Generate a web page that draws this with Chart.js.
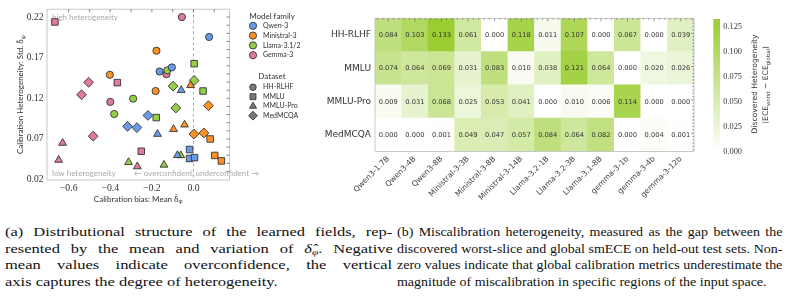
<!DOCTYPE html>
<html><head><meta charset="utf-8">
<script src="https://cdn.jsdelivr.net/npm/chart.js@4"></script>
<style>
html,body{margin:0;padding:0;background:#fff;width:786px;height:296px;overflow:hidden}
body{position:relative}
canvas{position:absolute}
#scatter{left:0;top:0}
#heat{left:300px;top:0}
#cbar{left:700px;top:0}
.cap{position:absolute;font-family:"Liberation Serif","Times New Roman",serif;font-size:13.2px;line-height:16.6px;color:#111;transform-origin:0 0}
.cap div{white-space:nowrap}
.cap sub{font-size:0.7em;line-height:0;vertical-align:-0.25em}
#capA{transform:scaleX(1.25)}
#capB{transform:scaleX(1.06)}
</style></head>
<body>
<canvas id="scatter" width="300" height="210"></canvas>
<canvas id="heat" width="400" height="215"></canvas>
<canvas id="cbar" width="86" height="210"></canvas>
<div class="cap" id="capA" style="left:5px;top:224px;width:310px">
<div class="j"><span>(a) Distributional structure of the learned fields, rep-</span></div>
<div class="j"><span>resented by the mean and variation of <i>δ̂</i><sub><i>φ</i></sub>. Negative</span></div>
<div class="j"><span>mean values indicate overconfidence, the vertical</span></div>
<div><span>axis captures the degree of heterogeneity.</span></div>
</div>
<div class="cap" id="capB" style="left:397px;top:224px;width:364px">
<div class="j"><span>(b) Miscalibration heterogeneity, measured as the gap between the</span></div>
<div class="j"><span>discovered worst-slice and global smECE on held-out test sets. Non-</span></div>
<div class="j"><span>zero values indicate that global calibration metrics underestimate the</span></div>
<div><span>magnitude of miscalibration in specific regions of the input space.</span></div>
</div>
<script>
// ---------------- data: panel (a) ----------------
const families = ['Qwen-3', 'Ministral-3', 'Llama-3.1/2', 'Gemma-3'];
const benchNames = ['HH-RLHF', 'MMLU', 'MMLU-Pro', 'MedMCQA'];
// three model sizes per benchmark, benchmarks in benchNames order
const qwenMean      = [0.075, -0.163, -0.104,  -0.019, -0.019, 0.005,  -0.059, -0.173, -0.077,  -0.219, -0.317, -0.272];
const qwenStd       = [0.1955, 0.153, 0.158,   0.057, 0.046, 0.047,    0.130, 0.076, 0.050,     0.099, 0.0855, 0.084];
const ministralMean = [-0.178, -0.402, -0.182, 0.080, 0.102, 0.134,    -0.014, -0.096, -0.043,  0.002, 0.072, 0.050];
const ministralStd  = [0.1786, 0.149, 0.129,   0.070, 0.0497, 0.043,   0.136, 0.082, 0.0875,    0.076, 0.111, 0.0774];
const llamaMean     = [-0.126, -0.290, -0.381, 0.003, 0.046, -0.179,   -0.312, -0.142, -0.061,  0.003, -0.098, -0.085];
const llamaStd      = [0.1545, 0.1196, 0.1007, 0.1626, 0.129, 0.0963,  0.0413, 0.0381, 0.0497,  0.142, 0.135, 0.108];
const gemmaMean     = [-0.056, -0.130, -0.400, -0.666, -0.366, -0.251, -0.629, -0.648, -0.270,  -0.504, -0.538, -0.482];
const gemmaStd      = [0.220, 0.1497, 0.1156,  0.214, 0.1393, 0.0549,  0.065, 0.0441, 0.0361,   0.1397, 0.1244, 0.0734];
const scatterXTicks = [-0.6, -0.4, -0.2, 0.0];
const scatterYTicks = [0.02, 0.07, 0.12, 0.17, 0.22];

// ---------------- data: panel (b) ----------------
const heatModels = ['Qwen3-1.7B','Qwen3-4B','Qwen3-8B','Ministral-3-3B','Ministral-3-8B','Ministral-3-14B',
                    'Llama-3.2-1B','Llama-3.2-3B','Llama-3.1-8B','gemma-3-1b','gemma-3-4b','gemma-3-12b'];
const heatRows = ['HH-RLHF', 'MMLU', 'MMLU-Pro', 'MedMCQA'];
const hhRlhfGap  = [0.084, 0.103, 0.133, 0.061, 0.000, 0.118, 0.011, 0.107, 0.000, 0.067, 0.000, 0.039];
const mmluGap    = [0.074, 0.064, 0.069, 0.031, 0.083, 0.010, 0.038, 0.121, 0.064, 0.000, 0.020, 0.026];
const mmluProGap = [0.009, 0.031, 0.068, 0.025, 0.053, 0.041, 0.000, 0.010, 0.006, 0.114, 0.000, 0.000];
const medMcqaGap = [0.000, 0.000, 0.001, 0.049, 0.047, 0.057, 0.084, 0.064, 0.082, 0.000, 0.004, 0.001];
const cbTicks = [0, 0.025, 0.05, 0.075, 0.1, 0.125];

// ---------------- styles ----------------
const familyColors = ['#6a9be8', '#ff9124', '#94cf48', '#de7b9e'];
const benchShapes = ['circle', 'rect', 'triangle', 'rectRot'];
const shapeRadius = {circle: 3.6, rect: 4.6, triangle: 4.5, rectRot: 4.9};
const SANS = 'Lato, "DejaVu Sans", sans-serif';
const SERIF = '"Liberation Serif", "DejaVu Serif", serif';

function drawRich(ctx, parts, x, y, align, size, family, color) {
  ctx.save();
  ctx.fillStyle = color; ctx.textBaseline = 'middle';
  let total = 0;
  parts.forEach(p => { ctx.font = (p.sub ? size * 0.7 : size) + 'px ' + family; p.w = ctx.measureText(p.t).width; total += p.w; });
  let cx = align === 'center' ? x - total / 2 : (align === 'right' ? x - total : x);
  ctx.textAlign = 'left';
  parts.forEach(p => {
    ctx.font = (p.sub ? size * 0.7 : size) + 'px ' + family;
    ctx.fillText(p.t, cx, p.sub ? y + size * 0.3 : y);
    cx += p.w;
  });
  ctx.restore();
}
function fmt1(v) { return (v < 0 ? '\u2212' : '') + Math.abs(v).toFixed(1); }

// ---------------- scatter ----------------
const famMeans = [qwenMean, ministralMean, llamaMean, gemmaMean];
const famStds = [qwenStd, ministralStd, llamaStd, gemmaStd];
const scatterSets = [];
families.forEach((f, fi) => {
  benchNames.forEach((b, bi) => {
    const pts = [];
    for (let k = 0; k < 3; k++) pts.push({x: famMeans[fi][bi * 3 + k], y: famStds[fi][bi * 3 + k]});
    scatterSets.push({
      label: f + ' ' + b, data: pts, pointStyle: benchShapes[bi], pointRadius: shapeRadius[benchShapes[bi]],
      backgroundColor: familyColors[fi], borderColor: '#333', borderWidth: 0.9
    });
  });
});

const scatterDecor = {
  id: 'scatterDecor',
  beforeDatasetsDraw(chart) {
    const {ctx, chartArea: a, scales: {x}} = chart;
    const x0 = x.getPixelForValue(0);
    ctx.save();
    ctx.strokeStyle = '#999'; ctx.lineWidth = 0.8; ctx.setLineDash([3, 2.5]);
    ctx.beginPath(); ctx.moveTo(x0, a.top); ctx.lineTo(x0, a.bottom); ctx.stroke();
    ctx.setLineDash([]);
    ctx.fillStyle = '#aaa'; ctx.font = '8px ' + SANS; ctx.textBaseline = 'middle';
    ctx.textAlign = 'left';
    ctx.fillText('high heterogeneity', a.left + 5, a.top + 8);
    ctx.fillText('low heterogeneity', a.left + 5, a.bottom - 6.5);
    ctx.textAlign = 'right'; ctx.fillText('\u2190 overconfident', x0 - 1, a.bottom - 6.5);
    ctx.textAlign = 'left'; ctx.fillText('underconfident \u2192', x0 + 2, a.bottom - 6.5);
    ctx.restore();
  },
  afterDraw(chart) {
    const {ctx, chartArea: a, scales: {x, y}} = chart;
    ctx.save();
    ctx.strokeStyle = '#c8c8c8'; ctx.lineWidth = 1;
    ctx.strokeRect(a.left, a.top, a.right - a.left, a.bottom - a.top);
    ctx.strokeStyle = '#555'; ctx.lineWidth = 0.7;
    ctx.beginPath();
    for (let v = -0.6; v <= 0.15; v += 0.1) { const px = x.getPixelForValue(v); ctx.moveTo(px, a.top); ctx.lineTo(px, a.top + 3); }
    for (let k = 3; k <= 22; k++) { const py = y.getPixelForValue(k / 100); ctx.moveTo(a.right, py); ctx.lineTo(a.right - 3, py); }
    ctx.stroke();
    // axis titles
    drawRich(ctx, [{t: 'Calibration bias: Mean '}, {t: 'δ̄'}, {t: 'φ', sub: true}], (a.left + a.right) / 2, 199, 'center', 8, SANS, '#333');
    ctx.save();
    ctx.translate(20.5, (a.top + a.bottom) / 2); ctx.rotate(-Math.PI / 2);
    drawRich(ctx, [{t: 'Calibration Heterogeneity: Std. '}, {t: 'δ̂'}, {t: 'φ', sub: true}], 0, 0, 'center', 8, SANS, '#333');
    ctx.restore();
    // legend
    ctx.textBaseline = 'middle';
    ctx.fillStyle = '#333'; ctx.font = '8px ' + SANS; ctx.textAlign = 'center';
    ctx.fillText('Model family', 272, 16);
    ctx.fillText('Dataset', 272, 76);
    families.forEach((f, i) => {
      const yy = 25.8 + 9.8 * i;
      ctx.fillStyle = familyColors[i]; ctx.strokeStyle = '#333'; ctx.lineWidth = 0.9;
      Chart.helpers.drawPoint(ctx, {pointStyle: 'circle', radius: 3.6, borderWidth: 0.9, rotation: 0}, 253, yy);
      ctx.fillStyle = '#333'; ctx.font = '7px ' + SANS; ctx.textAlign = 'left';
      ctx.fillText(f, 263, yy);
    });
    benchNames.forEach((b, i) => {
      const yy = 87.2 + 9.5 * i;
      ctx.fillStyle = '#7a7a7a'; ctx.strokeStyle = '#333'; ctx.lineWidth = 0.9;
      Chart.helpers.drawPoint(ctx, {pointStyle: benchShapes[i], radius: shapeRadius[benchShapes[i]] * 0.9, borderWidth: 0.9, rotation: 0}, 253, yy);
      ctx.fillStyle = '#333'; ctx.font = '7px ' + SANS; ctx.textAlign = 'left';
      ctx.fillText(b, 263, yy);
    });
    ctx.restore();
  }
};

new Chart(document.getElementById('scatter'), {
  type: 'scatter',
  data: {datasets: scatterSets},
  options: {
    responsive: false, animation: false, devicePixelRatio: 1,
    layout: {padding: {left: 0, right: 70.5, top: 6, bottom: 0}},
    plugins: {legend: {display: false}, tooltip: {enabled: false}},
    scales: {
      x: {
        type: 'linear', min: -0.704, max: 0.173,
        grid: {display: false, drawTicks: false}, border: {display: false},
        afterBuildTicks: s => { s.ticks = scatterXTicks.map(v => ({value: v})); },
        afterFit: s => { s.height = 30; },
        ticks: {padding: 3, color: '#333', font: {family: SERIF, size: 9.8}, callback: v => fmt1(v)}
      },
      y: {
        type: 'linear', min: 0.0195, max: 0.2296,
        grid: {display: false, drawTicks: false}, border: {display: false},
        afterBuildTicks: s => { s.ticks = scatterYTicks.map(v => ({value: v})); },
        afterFit: s => { s.width = 47; },
        ticks: {padding: 3.5, color: '#333', font: {family: SERIF, size: 9.6}, callback: v => v.toFixed(2)}
      }
    }
  },
  plugins: [scatterDecor]
});

// ---------------- heatmap ----------------
const rowValues = [hhRlhfGap, mmluGap, mmluProGap, medMcqaGap];
const vmax = Math.max(...hhRlhfGap, ...mmluGap, ...mmluProGap, ...medMcqaGap);
const cLow = [255, 255, 255], cHigh = [154, 205, 50];
function heatColor(v) {
  const t = Math.max(0, Math.min(1, v / vmax));
  const c = cLow.map((l, i) => Math.round(l + (cHigh[i] - l) * t));
  return `rgb(${c[0]},${c[1]},${c[2]})`;
}
// bottom row first (stacked upward)
const heatSets = heatRows.slice().reverse().map(r => {
  const vals = rowValues[heatRows.indexOf(r)];
  return {label: r, values: vals, data: vals.map(() => 1), backgroundColor: vals.map(heatColor),
          borderWidth: 0, barPercentage: 1, categoryPercentage: 1};
});

const heatDecor = {
  id: 'heatDecor',
  afterDatasetsDraw(chart) {
    const {ctx, chartArea: a} = chart;
    ctx.save();
    ctx.font = '6.7px "DejaVu Sans", sans-serif'; ctx.fillStyle = '#333';
    ctx.textAlign = 'center'; ctx.textBaseline = 'middle';
    chart.data.datasets.forEach((ds, di) => {
      chart.getDatasetMeta(di).data.forEach((el, j) => {
        const c = el.getCenterPoint();
        ctx.fillText(ds.values[j].toFixed(3), c.x, c.y + 0.5);
      });
    });
    ctx.strokeStyle = '#bdbdbd'; ctx.lineWidth = 0.8;
    ctx.strokeRect(a.left, a.top, a.right - a.left, a.bottom - a.top);
    const cw = (a.right - a.left) / heatModels.length, rh = (a.bottom - a.top) / heatRows.length;
    ctx.strokeStyle = '#555'; ctx.lineWidth = 0.6; ctx.beginPath();
    for (let i = 0; i < heatModels.length; i++) {
      for (let k = 0; k < 5; k++) {
        const px = a.left + cw * (i + (k + 0.5) / 5);
        const len = k === 2 ? 3 : 1.5;
        ctx.moveTo(px, a.top); ctx.lineTo(px, a.top + len);
      }
    }
    for (let r = 0; r < heatRows.length; r++) {
      for (let k = 0; k < 10; k++) {
        const py = a.top + rh * (r + (k + 0.5) / 10);
        const len = (k === 4) ? 3 : 1.5;
        ctx.moveTo(a.right, py); ctx.lineTo(a.right - len, py);
      }
    }
    ctx.stroke();
    ctx.restore();
  }
};

new Chart(document.getElementById('heat'), {
  type: 'bar',
  data: {labels: heatModels, datasets: heatSets},
  options: {
    responsive: false, animation: false, devicePixelRatio: 1,
    layout: {padding: {left: 0, right: 6, top: 18.3, bottom: 0}},
    plugins: {legend: {display: false}, tooltip: {enabled: false}},
    scales: {
      x: {
        stacked: true, grid: {display: false, drawTicks: false}, border: {display: false},
        afterFit: s => { s.height = 63.5; },
        ticks: {autoSkip: false, minRotation: 45, maxRotation: 45, padding: 3, color: '#444',
                font: {family: '"DejaVu Sans", sans-serif', size: 7.7}}
      },
      y: {
        stacked: true, min: 0, max: heatRows.length,
        grid: {display: false, drawTicks: false}, border: {display: false},
        afterBuildTicks: s => { s.ticks = heatRows.map((r, i) => ({value: i + 0.5})); },
        afterFit: s => { s.width = 75; },
        ticks: {padding: 4, color: '#333', font: {family: '"DejaVu Sans", sans-serif', size: 9},
                callback: v => heatRows[heatRows.length - 1 - Math.floor(v)]}
      }
    }
  },
  plugins: [heatDecor]
});

// ---------------- colorbar ----------------
const cbarDecor = {
  id: 'cbarDecor',
  afterDraw(chart) {
    const {ctx} = chart;
    ctx.save();
    ctx.translate(55.5, 84); ctx.rotate(-Math.PI / 2);
    drawRich(ctx, [{t: 'Discovered Heterogeneity'}], 0, 0, 'center', 7.6, '"DejaVu Sans", sans-serif', '#333');
    ctx.restore();
    ctx.save();
    ctx.translate(66.5, 85); ctx.rotate(-Math.PI / 2);
    drawRich(ctx, [{t: '(ECE'}, {t: 'worst', sub: true}, {t: ' \u2212 ECE'}, {t: 'global', sub: true}, {t: ')'}], 0, 0, 'center', 7.6, '"DejaVu Sans", sans-serif', '#333');
    ctx.restore();
  }
};
new Chart(document.getElementById('cbar'), {
  type: 'bar',
  data: {labels: ['scale'], datasets: [{
    data: [vmax], barPercentage: 1, categoryPercentage: 1, borderWidth: 0,
    backgroundColor: (c) => {
      const a = c.chart.chartArea;
      if (!a) return heatColor(vmax);
      const g = c.chart.ctx.createLinearGradient(0, a.bottom, 0, a.top);
      g.addColorStop(0, heatColor(0)); g.addColorStop(1, heatColor(vmax));
      return g;
    }
  }]},
  options: {
    responsive: false, animation: false, devicePixelRatio: 1,
    layout: {padding: {left: 13.3, right: 0, top: 19, bottom: 58.3}},
    plugins: {legend: {display: false}, tooltip: {enabled: false}},
    scales: {
      x: {display: false},
      y: {
        position: 'right', min: 0, max: vmax,
        grid: {display: false, drawTicks: false}, border: {display: false},
        afterBuildTicks: s => { s.ticks = cbTicks.map(v => ({value: v})); },
        afterFit: s => { s.width = 66; },
        ticks: {padding: 3.3, color: '#333', font: {family: SERIF, size: 8.3}, callback: v => v.toFixed(3)}
      }
    }
  },
  plugins: [cbarDecor]
});

// ---------------- justify caption lines ----------------
function justifyCaptions() {
  document.querySelectorAll('.cap').forEach(cap => {
    const W = cap.clientWidth;
    cap.querySelectorAll('div.j span').forEach(s => {
      s.style.wordSpacing = '0px';
      const w = s.offsetWidth;
      const n = (s.textContent.match(/ /g) || []).length;
      if (n > 0 && w > 0) s.style.wordSpacing = ((W - w) / n) + 'px';
    });
  });
}
justifyCaptions();
if (document.fonts && document.fonts.ready) document.fonts.ready.then(justifyCaptions);
window.addEventListener('load', justifyCaptions);
</script>
</body></html>
